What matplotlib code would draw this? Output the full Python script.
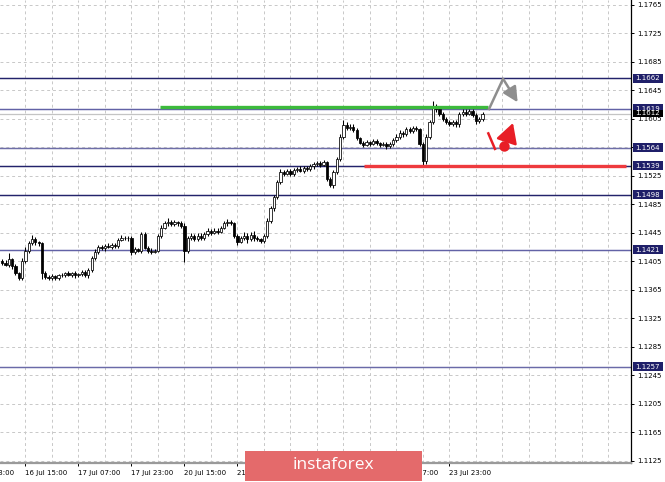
import matplotlib
matplotlib.use('Agg')
import matplotlib.pyplot as plt
from matplotlib.patches import Rectangle
import numpy as np

# ---------------- data (H1 candles, values in pips above 1.1000) ----------------
hours = list(range(-7, 139))          # 0 = 16 Jul 15:00
first_open = 405
closes = [403, 400, 408, 398, 388, 382, 405,
          420, 430, 436, 432, 430, 388, 383, 381, 384, 382,
          385, 386, 388, 386, 388, 385, 387, 390, 385, 392,
          410, 418, 425, 423, 427, 425, 428, 426, 435, 438,
          437, 438, 418, 422, 420, 443, 424, 420, 418, 420,
          440, 452, 458, 460, 457, 460, 458, 455, 420, 438,
          440, 436, 441, 438, 443, 447, 445, 448, 446, 452,
          458, 460, 458, 440, 432, 438, 441, 436, 442, 437,
          436, 433, 440, 462, 480, 495, 516, 530, 528, 531,
          527, 533, 535, 532, 536, 534, 538, 541, 543, 540,
          544, 520, 512, 530, 548, 580, 596, 592, 594, 589,
          578, 571, 568, 572, 570, 574, 571, 568, 569, 566,
          570, 575, 580, 585, 583, 590, 588, 592, 590, 570,
          545, 580, 600, 622, 618, 612, 605, 600, 598, 600,
          597, 612, 615, 612, 616, 610, 602, 605, 612]
upper_wick = [3, 4, 8, 2, 3, 2, 4,
              5, 4, 6, 3, 2, 2, 3, 2, 3, 2,
              2, 3, 2, 3, 2, 3, 2, 2, 3, 3,
              3, 4, 3, 3, 2, 3, 2, 3, 3, 4,
              3, 2, 2, 3, 2, 3, 3, 2, 3, 2,
              3, 4, 3, 5, 3, 3, 2, 3, 3, 3,
              4, 3, 4, 3, 3, 4, 3, 3, 3, 3,
              3, 4, 3, 2, 3, 3, 5, 3, 4, 6,
              3, 2, 3, 3, 3, 3, 3, 4, 3, 3,
              3, 3, 2, 3, 3, 2, 3, 3, 2, 3,
              3, 2, 3, 3, 3, 4, 7, 4, 3, 3,
              3, 2, 3, 3, 2, 3, 3, 2, 3, 3,
              3, 3, 3, 4, 3, 3, 3, 3, 3, 2,
              2, 3, 3, 8, 4, 3, 2, 3, 3, 3,
              3, 3, 4, 3, 3, 3, 3, 3, 2]
lower_wick = [3, 2, 3, 4, 3, 4, 3,
              2, 3, 2, 4, 3, 8, 3, 3, 2, 4,
              3, 2, 3, 2, 3, 4, 2, 3, 2, 3,
              2, 3, 3, 2, 3, 2, 3, 2, 3, 2,
              2, 3, 4, 3, 2, 3, 2, 3, 3, 2,
              2, 3, 2, 3, 3, 2, 3, 3, 16, 4,
              3, 3, 2, 3, 3, 2, 3, 2, 3, 2,
              2, 3, 2, 3, 4, 2, 3, 5, 3, 3,
              3, 2, 3, 3, 3, 4, 3, 3, 3, 2,
              3, 2, 3, 2, 3, 3, 2, 3, 2, 3,
              2, 3, 3, 4, 3, 3, 4, 3, 3, 3,
              3, 2, 3, 2, 3, 2, 3, 3, 2, 3,
              2, 3, 2, 3, 3, 2, 3, 3, 2, 3,
              7, 3, 3, 3, 3, 3, 3, 2, 3, 3,
              3, 3, 3, 3, 2, 3, 5, 3, 3]

price_ticks = [1.1125, 1.1165, 1.1205, 1.1245, 1.1285, 1.1325, 1.1365, 1.1405, 1.1445,
               1.1485, 1.1525, 1.1565, 1.1605, 1.1645, 1.1685, 1.1725, 1.1765]
# 1.1565 lies fully under the 1.1564 level box in the reference
price_labels = ['1.1125', '1.1165', '1.1205', '1.1245', '1.1285', '1.1325', '1.1365', '1.1405',
                '1.1445', '1.1485', '1.1525', '', '1.1605', '1.1645', '1.1685', '1.1725', '1.1765']
# labels of 21 Jul 23:00 and 22 Jul 15:00 lie fully under the logo in the reference
time_ticks = [-16, 0, 16, 32, 48, 64, 80, 96, 112, 128]
time_labels = ['15 Jul 23:00', '16 Jul 15:00', '17 Jul 07:00', '17 Jul 23:00', '20 Jul 15:00',
               '21 Jul 07:00', '', '', '23 Jul 07:00', '23 Jul 23:00']
grid_hours = list(range(-8, 185, 8))

levels = [1.1662, 1.1619, 1.1564, 1.1539, 1.1498, 1.1421, 1.1257]
level_texts = ['1.1662', '1.1619', '1.1564', '1.1539', '1.1498', '1.1421', '1.1257']
current_price = 1.1612

green_level = 1.1621
green_span = (40.5, 139.8)
red_level = 1.1539
red_span = (102.2, 181.2)
gray_arrow = [(139.8, 1.1617), (144.2, 1.1661), (148.6, 1.1628)]
red_tail = [(139.6, 1.1586), (141.9, 1.1561)]
red_dot = (144.4, 1.1566)
red_arrow = [(145.3, 1.1573), (147.2, 1.1599)]

# ---------------- styles ----------------
level_colors = ['#23236b', '#6262a6', '#6e6ea8', '#23236b', '#23236b', '#6262a6', '#6a6aa8']
box_color = '#1f1f69'
FS = 5.0

W, H = 665, 482
fig = plt.figure(figsize=(W / 100, H / 100), dpi=100)
fig.patch.set_facecolor('white')
ax = fig.add_axes([0, 19 / H, 631 / W, 463 / H])
ax.set_facecolor('white')
ax.set_xlim(-7.668, 182.82)
ax.set_ylim(1.11218, 1.17716)

# grid
for g in grid_hours:
    ax.axvline(g, color='#c8c8c8', lw=0.7, ls=(0, (3, 3)), zorder=0)
for p in price_ticks:
    ax.axhline(p, color='#c8c8c8', lw=0.7, ls=(0, (3, 3)), zorder=0)

# level lines
for lv, col in zip(levels, level_colors):
    ax.axhline(lv, color=col, lw=1.05, zorder=1)
ax.axhline(current_price, color='#c4c4c4', lw=0.9, zorder=1)

# candles
x = np.array(hours, dtype=float)
C = 1.1 + np.array(closes) / 10000
O = 1.1 + np.array([first_open] + closes[:-1]) / 10000
Hi = np.maximum(O, C) + np.array(upper_wick) / 10000
Lo = np.minimum(O, C) - np.array(lower_wick) / 10000
ax.vlines(x, Lo, Hi, color='black', lw=0.75, zorder=3)
bull = C >= O
bottoms = np.minimum(O, C)
heights = np.maximum(np.abs(C - O), 0.00008)
ax.bar(x[bull], heights[bull], bottom=bottoms[bull], width=0.68,
       facecolor='white', edgecolor='black', linewidth=0.55, zorder=4)
ax.bar(x[~bull], heights[~bull], bottom=bottoms[~bull], width=0.68,
       facecolor='black', edgecolor='black', linewidth=0.55, zorder=4)

# green / red horizontal marks
ax.plot(green_span, [green_level, green_level], color='#3cba3c', lw=2.4, zorder=5,
        solid_capstyle='butt')
ax.plot(red_span, [red_level, red_level], color='#ee3a3e', lw=2.4, zorder=5,
        solid_capstyle='butt')

# gray forecast arrow
ax.plot([gray_arrow[0][0], gray_arrow[1][0]], [gray_arrow[0][1], gray_arrow[1][1]],
        color='#8e8e8e', lw=1.8, zorder=6, solid_capstyle='butt')
ax.annotate('', xy=gray_arrow[2], xytext=gray_arrow[1],
            arrowprops=dict(arrowstyle='-|>,head_length=0.9,head_width=0.45', color='#8e8e8e',
                            lw=1.8, mutation_scale=10, shrinkA=0, shrinkB=0), zorder=6)
# red forecast
ax.plot([red_tail[0][0], red_tail[1][0]], [red_tail[0][1], red_tail[1][1]],
        color='#e81e26', lw=1.8, zorder=6, solid_capstyle='butt')
ax.plot([red_dot[0]], [red_dot[1]], 'o', color='#e81e26', ms=7.5, mec='none', zorder=6)
ax.annotate('', xy=red_arrow[1], xytext=red_arrow[0],
            arrowprops=dict(arrowstyle='-|>,head_length=1.0,head_width=0.55', color='#e81e26',
                            lw=1.8, mutation_scale=12, shrinkA=0, shrinkB=0), zorder=6)

# axes styling
for s in ['top', 'left']:
    ax.spines[s].set_visible(False)
ax.spines['right'].set_color('black')
ax.spines['right'].set_linewidth(0.9)
ax.spines['bottom'].set_color('#9a9a9a')
ax.spines['bottom'].set_linewidth(1.6)
ax.yaxis.tick_right()
ax.set_yticks(price_ticks, price_labels)
ax.tick_params(axis='y', length=2.2, width=0.7, pad=2, labelsize=FS, colors='black',
               direction='out')
ax.set_xticks(time_ticks[1:])
ax.set_xticklabels([])
ax.tick_params(axis='x', length=2.2, width=0.7, colors='black', direction='out')
xtr = ax.get_xaxis_transform()
for t, lab in zip(time_ticks, time_labels):
    if lab:
        ax.text(t, -6.5 / 463, lab, transform=xtr, ha='left', va='top', fontsize=FS,
                color='black', clip_on=False)

# level boxes on the price axis
fig.canvas.draw()
def fig_y(price):
    return ax.transData.transform((0, price))[1] / H

for lv, txt in zip(levels, level_texts):
    yf = fig_y(lv)
    fig.patches.append(Rectangle((632.5 / W, yf - 4.5 / H), 30 / W, 9 / H,
                                 transform=fig.transFigure, facecolor=box_color,
                                 edgecolor='none', zorder=10))
    fig.text(647.5 / W, yf, txt, ha='center', va='center', fontsize=FS, color='white',
             zorder=11)
yf = fig_y(current_price)
fig.patches.append(Rectangle((632.5 / W, yf - 3.2 / H), 30 / W, 7.2 / H,
                             transform=fig.transFigure, facecolor='black',
                             edgecolor='none', zorder=10))
fig.text(647.5 / W, yf + 0.3 / H, '1.1612', ha='center', va='center', fontsize=FS,
         color='white', zorder=11)

# instaforex logo
fig.patches.append(Rectangle((245 / W, 1 / H), 177 / W, 30 / H, transform=fig.transFigure,
                             facecolor='#e46a6b', edgecolor='none', zorder=20))
fig.text(333.5 / W, 17 / H, 'instaforex', ha='center', va='center', fontsize=12.5,
         color='white', family=['Open Sans', 'DejaVu Sans'], zorder=21)

fig.savefig('out.png', dpi=100)
